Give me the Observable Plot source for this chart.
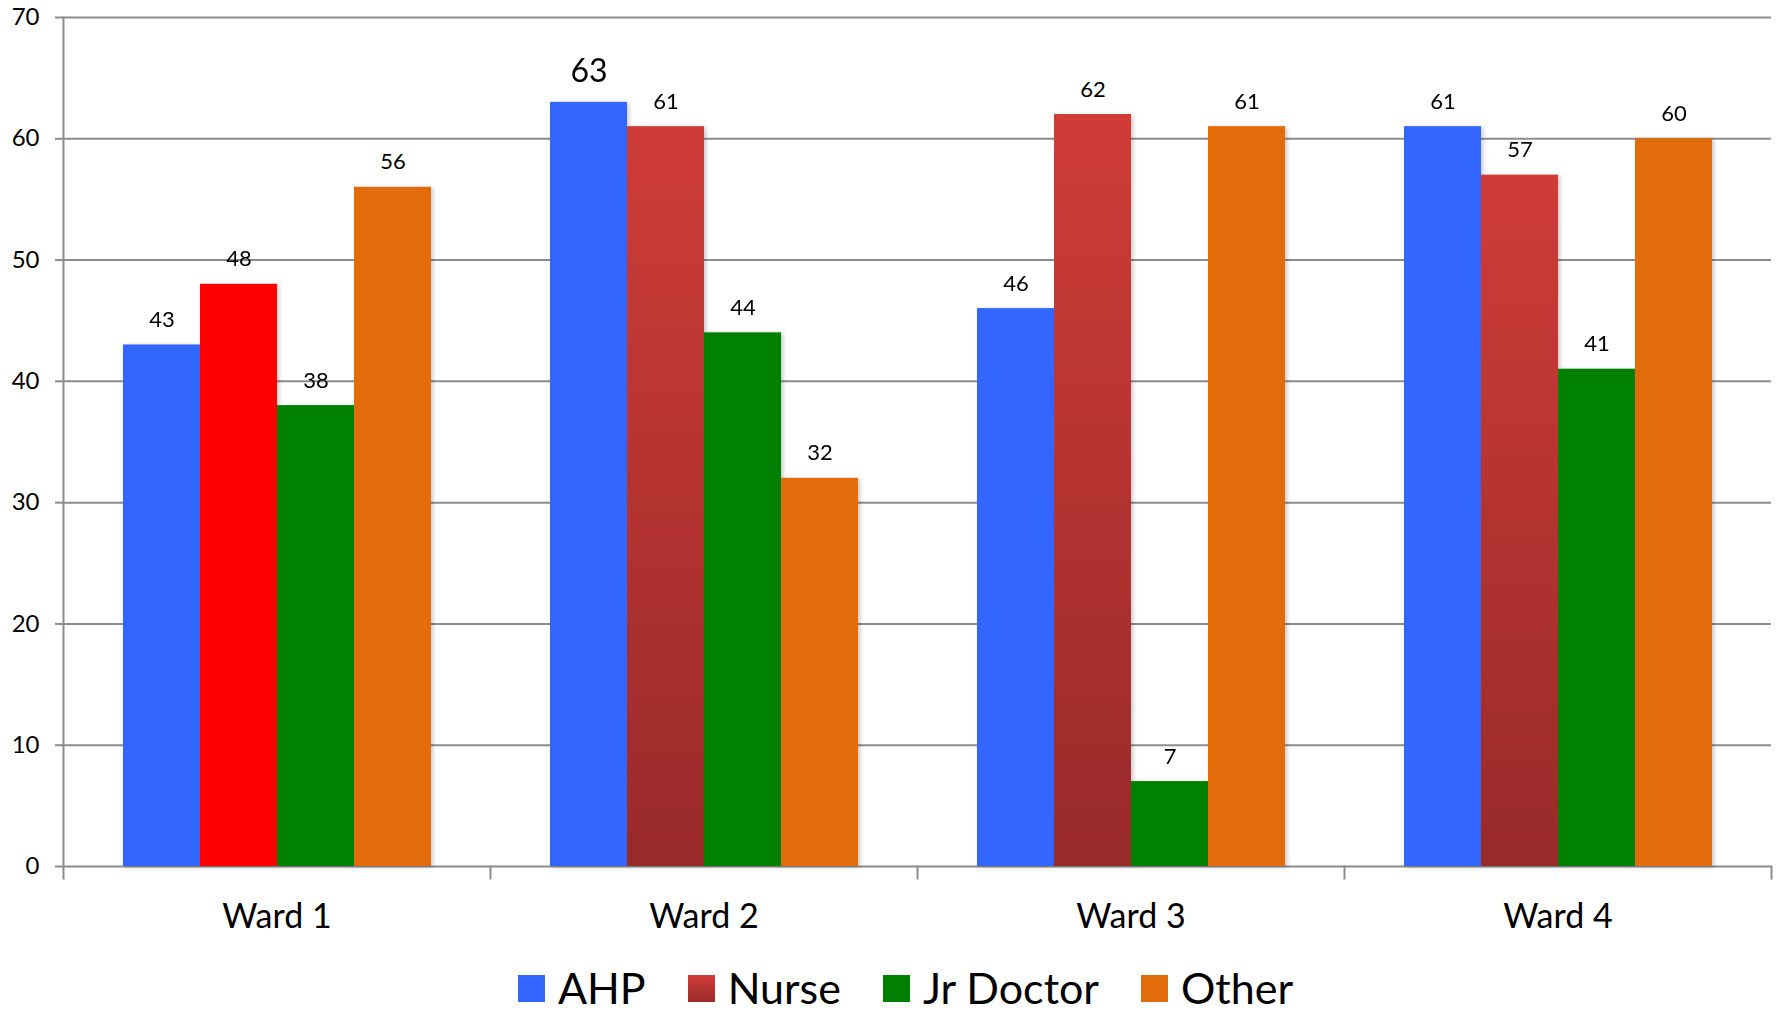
<!DOCTYPE html>
<html>
<head>
<meta charset="utf-8">
<script src="https://cdn.jsdelivr.net/npm/d3@7"></script>
<script src="https://cdn.jsdelivr.net/npm/@observablehq/plot@0.6"></script>
<style>
  html, body { margin: 0; padding: 0; background: #fff; overflow: hidden; }
  #chart svg { display: block; }
  #chart g[aria-label="bar"] { filter: drop-shadow(2px 1px 2px rgba(0,0,0,0.22)); }
  #legend {
    display: flex; justify-content: center; align-items: center;
    height: 61px; padding-left: 30px; padding-top: 16px; box-sizing: border-box;
    font-family: Lato, "Open Sans", sans-serif; font-size: 43px; color: #000;
  }
  #legend .item { display: flex; align-items: center; margin: 0 21px; }
  #legend .sw { width: 27px; height: 27px; margin-right: 13px; }
  #legend .lab { line-height: 0.8; }
</style>
</head>
<body>
<div id="chart"></div>
<div id="legend"></div>
<script>
// ---- data ----
const wards = ["Ward 1", "Ward 2", "Ward 3", "Ward 4"];
const roles = ["AHP", "Nurse", "Jr Doctor", "Other"];
const ahp = [43, 63, 46, 61];
const nurse = [48, 61, 62, 57];
const jrDoctor = [38, 44, 7, 41];
const other = [56, 32, 61, 60];
const yTicks = [0, 10, 20, 30, 40, 50, 60, 70];

// ---- build table ----
const seriesByRole = {"AHP": ahp, "Nurse": nurse, "Jr Doctor": jrDoctor, "Other": other};
const data = wards.flatMap((w, i) => roles.map(r => ({ward: w, role: r, value: seriesByRole[r][i]})));

// ---- styles ----
const roleColors = {"AHP": "#3366FF", "Nurse": "url(#nurseGrad)", "Jr Doctor": "#008000", "Other": "#E36C0A"};
const fillFor = d => (d.role === "Nurse" && d.ward === "Ward 1") ? "#FF0000" : roleColors[d.role];
const isBig = d => d.ward === "Ward 2" && d.role === "AHP";
const gray = "#8C8C8C";

const W = 1781, H = 950;
const mTop = 17, mBottom = 84, mLeft = 62, mRight = 9;
const plotH = H - mTop - mBottom;

const chart = Plot.plot({
  width: W, height: H,
  marginTop: mTop, marginBottom: mBottom, marginLeft: mLeft, marginRight: mRight,
  style: {fontFamily: "Lato, 'Open Sans', sans-serif", fontSize: "24px", color: "#000", background: "#fff"},
  fx: {domain: wards, padding: 0, label: null},
  x: {domain: roles, paddingInner: 0, paddingOuter: 0.75, axis: null},
  y: {domain: [0, 70]},
  color: {type: "identity"},
  marks: [
    Plot.gridY(yTicks, {stroke: gray, strokeOpacity: 1, strokeWidth: 2}),
    Plot.axisY(yTicks, {tickSize: 8, tickPadding: 16, stroke: gray, strokeWidth: 2, fill: "#000", fontSize: 24, label: null}),
    Plot.frame({anchor: "left", facetAnchor: "left", insetBottom: -12, stroke: gray, strokeWidth: 2}),
    Plot.frame({anchor: "right", insetTop: plotH, insetBottom: -12, stroke: gray, strokeWidth: 2}),
    Plot.axisFx({anchor: "bottom", tickSize: 0, tickPadding: 37, fontSize: 34, fill: "#000", label: null}),
    Plot.barY(data, {fx: "ward", x: "role", y: "value", fill: fillFor}),
    Plot.text(data, {filter: d => !isBig(d), fx: "ward", x: "role", y: "value", text: d => String(d.value), dy: -25, fontSize: 22, fill: "#000"}),
    Plot.text(data, {filter: isBig, fx: "ward", x: "role", y: "value", text: d => String(d.value), dy: -31, fontSize: 32, fill: "#000"})
  ]
});

// gradient for Nurse bars
const svgSel = d3.select(chart.tagName.toLowerCase() === "svg" ? chart : chart.querySelector("svg"));
const grad = svgSel.insert("defs", ":first-child").append("linearGradient")
  .attr("id", "nurseGrad").attr("x1", 0).attr("y1", 0).attr("x2", 0).attr("y2", 1);
grad.append("stop").attr("offset", "0%").attr("stop-color", "#CF3C38");
grad.append("stop").attr("offset", "100%").attr("stop-color", "#982A2A");

document.getElementById("chart").appendChild(chart);

// legend
const legendFill = {"AHP": "#3366FF", "Nurse": "linear-gradient(#CF3C38, #9A2B2A)", "Jr Doctor": "#008000", "Other": "#E36C0A"};
const legend = document.getElementById("legend");
roles.forEach(r => {
  const it = document.createElement("div"); it.className = "item";
  const sw = document.createElement("div"); sw.className = "sw"; sw.style.background = legendFill[r];
  const lab = document.createElement("span"); lab.className = "lab"; lab.textContent = r;
  it.appendChild(sw); it.appendChild(lab); legend.appendChild(it);
});
</script>
</body>
</html>
